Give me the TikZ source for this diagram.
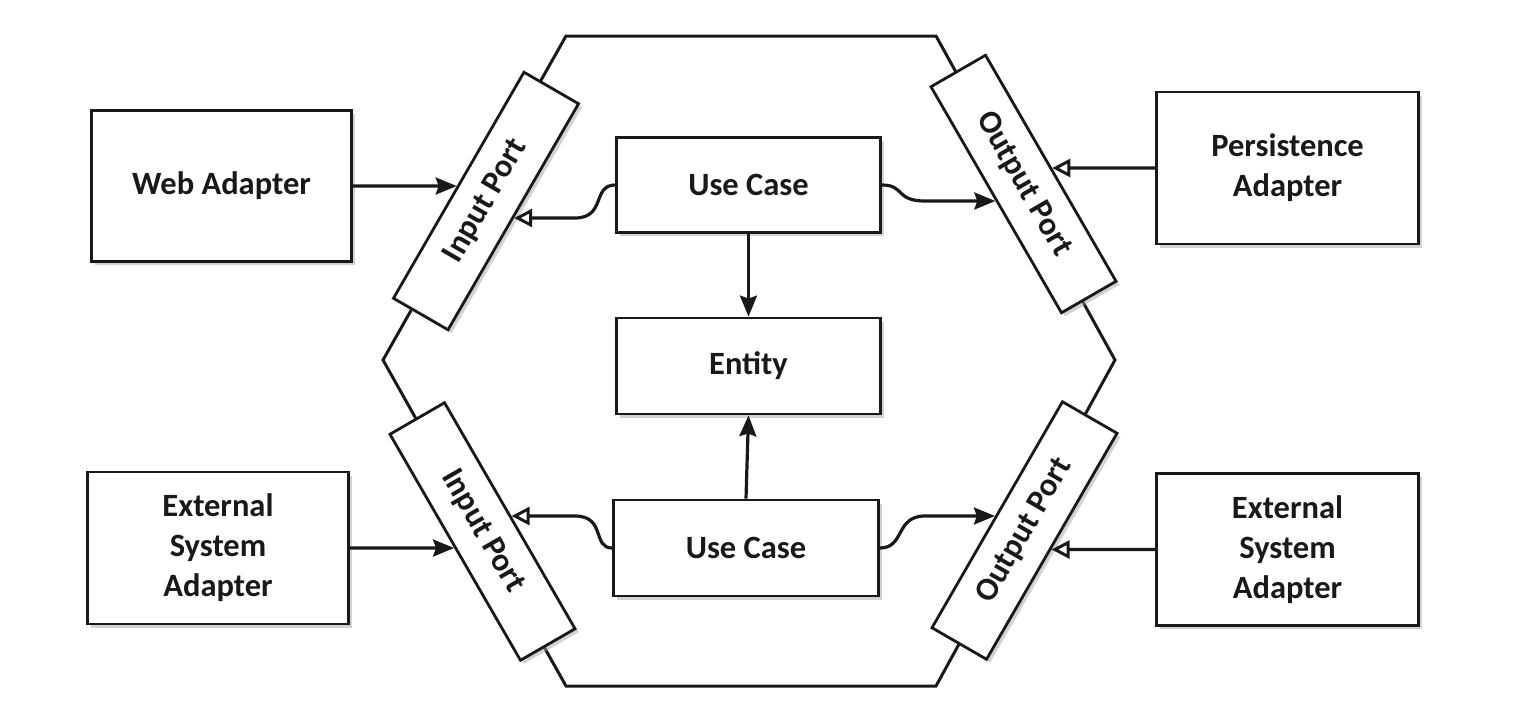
\documentclass[tikz,border=0pt]{standalone}
\usepackage{fontspec}
\setmainfont{Carlito}
\usetikzlibrary{arrows.meta,shadows,calc}
\begin{document}
\begin{tikzpicture}[x=1pt,y=-1pt,
  box/.style={draw=black!90, line width=2.8pt, fill=white,
    drop shadow={shadow xshift=3.5pt, shadow yshift=-3.5pt, fill=black!35, opacity=0.5},
    font=\fontsize{32.5}{40}\selectfont\bfseries, text=black!90, align=center, inner sep=0pt},
  port/.style={box, minimum width=261pt, minimum height=63pt},
  hexline/.style={draw=black!90, line width=3pt, line join=miter},
  filled/.style={draw=black!90, line width=3.2pt, -{Stealth[length=21pt,width=17pt,inset=3pt]}},
  openarr/.style={draw=black!90, line width=3.2pt, -{Triangle[open,length=18pt,width=18pt,line width=3pt,fill=white]}}
]
\useasboundingbox (0,0) rectangle (1520,716);
% hexagon
\coordinate (h1) at (566,36);
\coordinate (h2) at (936,36);
\coordinate (h3) at (1115,360);
\coordinate (h4) at (936,686);
\coordinate (h5) at (566,686);
\coordinate (h6) at (383,360);
\draw[hexline] (h1) -- (h2) -- (h3) -- (h4) -- (h5) -- (h6) -- cycle;

% adapters
\node[box, minimum width=260pt, minimum height=151pt] (web) at (221.5,186) {Web Adapter};
\node[box, minimum width=262pt, minimum height=152pt] (pers) at (1287.5,168) {Persistence\\Adapter};
\node[box, minimum width=261pt, minimum height=152pt] (ext1) at (218,548) {External\\System\\Adapter};
\node[box, minimum width=262pt, minimum height=152pt] (ext2) at (1287.5,549.5) {External\\System\\Adapter};

% core
\node[box, minimum width=264pt, minimum height=95pt] (uc1) at (748.5,185) {Use Case};
\node[box, minimum width=264pt, minimum height=96pt] (ent) at (748.5,366) {Entity};
\node[box, minimum width=265pt, minimum height=96pt] (uc2) at (746,548) {Use Case};

% ports
\node[port, rotate=60] (ip1) at (486,201) {Input Port};
\node[port, rotate=-60] (op1) at (1023.5,184) {Output Port};
\node[port, rotate=-60] (ip2) at (482.5,531.5) {Input Port};
\node[port, rotate=60] (op2) at (1024.5,530.5) {Output Port};

% helper coordinates for the curved connectors
\coordinate (c1) at (575,218);  \coordinate (c1b) at (540,218);
\coordinate (c2) at (925,201);  \coordinate (c2b) at (960,201);
\coordinate (c3) at (575,516);  \coordinate (c3b) at (540,516);
\coordinate (c4) at (925,516);  \coordinate (c4b) at (960,516);

% straight connectors
\draw[filled] (web.east) -- (intersection of web.east--web.west and ip1.north west--ip1.north east);
\draw[openarr] (pers.west) -- (intersection of pers.west--pers.east and op1.north west--op1.north east);
\draw[filled] (ext1.east) -- (intersection of ext1.east--ext1.west and ip2.south west--ip2.south east);
\draw[openarr] (ext2.west) -- (intersection of ext2.west--ext2.east and op2.south west--op2.south east);
\draw[filled] (uc1.south) -- (ent.north);
\draw[filled] (uc2.north) -- (ent.south);

% curved connectors
\draw[openarr] (uc1.west) .. controls (592,185) and (606,218) .. (c1) -- (intersection of c1--c1b and ip1.south west--ip1.south east);
\draw[filled] (uc1.east) .. controls (905,185) and (895,201) .. (c2) -- (intersection of c2--c2b and op1.south west--op1.south east);
\draw[openarr] (uc2.west) .. controls (592,548) and (606,516) .. (c3) -- (intersection of c3--c3b and ip2.north west--ip2.north east);
\draw[filled] (uc2.east) .. controls (905,548) and (895,516) .. (c4) -- (intersection of c4--c4b and op2.north west--op2.north east);
\end{tikzpicture}
\end{document}
